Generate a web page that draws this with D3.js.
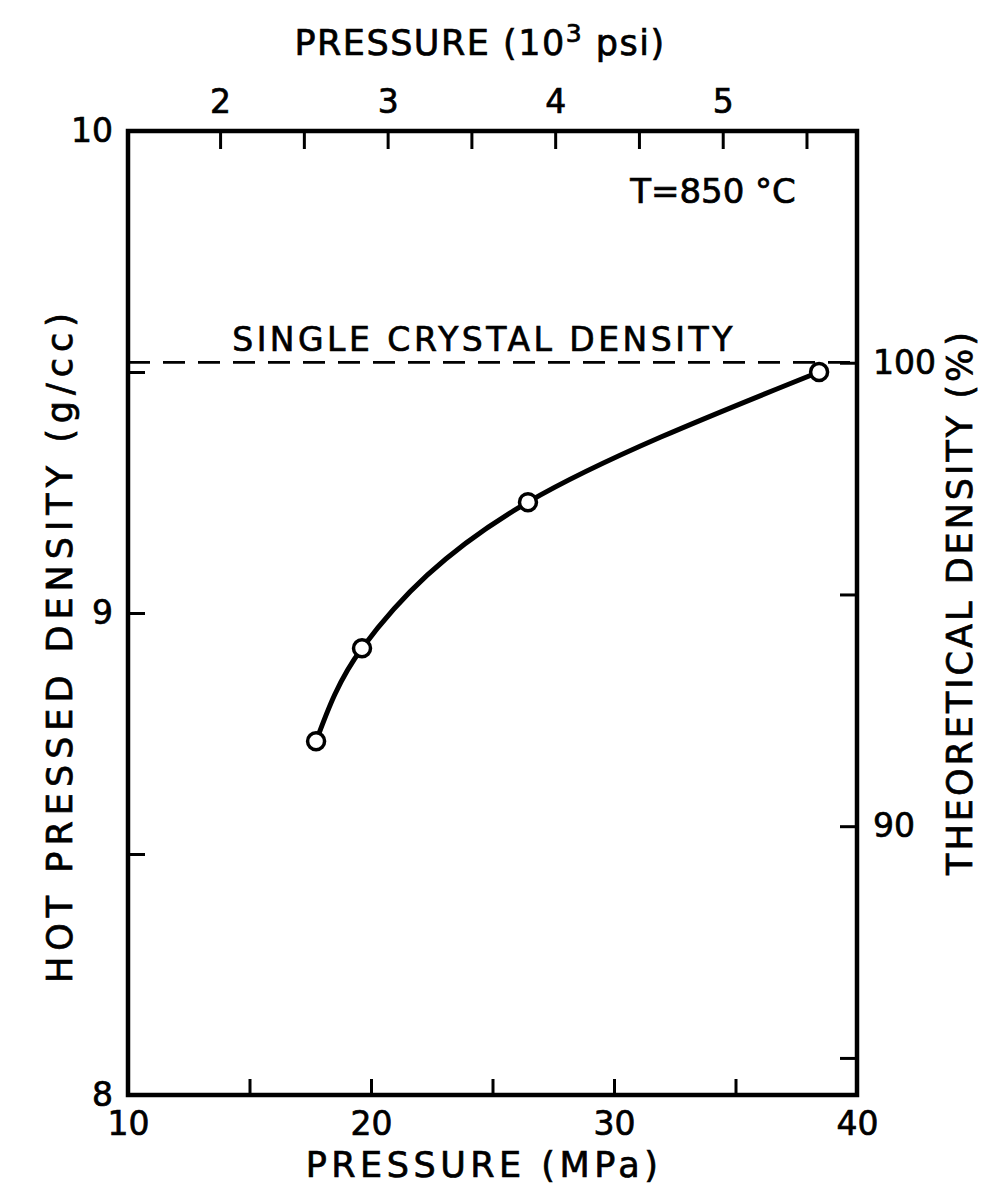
<!DOCTYPE html>
<html>
<head>
<meta charset="utf-8">
<script src="https://cdn.jsdelivr.net/npm/d3@7"></script>
<style>
  html, body { margin: 0; padding: 0; background: #fff; }
  svg text { font-family: "DejaVu Sans", "Noto Sans", sans-serif; fill: #000;
             stroke: #000; stroke-width: 0.7px; }
</style>
</head>
<body>
<svg id="chart" width="984" height="1200"></svg>
<script>
// Hot-pressed density vs. applied pressure at T = 850 °C
const pressureMPa = [17.74, 19.63, 26.46, 38.44];
const densityGcc  = [8.734, 8.927, 9.230, 9.500];
const singleCrystalDensity = 9.52;   // g/cc, = 100 % theoretical

const bottomTicks = [10, 15, 20, 25, 30, 35, 40];
const bottomLabels = [10, 20, 30, 40];
const topTicksKpsi = [2, 2.5, 3, 3.5, 4, 4.5, 5, 5.5];
const topLabels = [2, 3, 4, 5];
const leftTicks = [8, 8.5, 9, 9.5, 10];
const leftLabels = [8, 9, 10];
const rightTicks = [85, 90, 95, 100];
const rightLabels = [90, 100];

const MPA_PER_KPSI = 6.894757;

const svg = d3.select("#chart");
const L = 128, R = 857, T = 131, B = 1095;

const x = d3.scaleLinear().domain([10, 40]).range([L, R]);
const y = d3.scaleLinear().domain([8, 10]).range([B, T]);
const yPct = d3.scaleLinear().domain([84.2, 105]).range([B, T]);
const xKpsi = d3.scaleLinear()
  .domain([10 / MPA_PER_KPSI, 40 / MPA_PER_KPSI]).range([L, R]);

const tickStroke = 3;
const fontSize = 33;

function styleAxis(g) {
  g.select(".domain").remove();
  g.selectAll(".tick line").attr("stroke", "#000").attr("stroke-width", tickStroke);
  g.selectAll(".tick text").style("font-size", fontSize + "px").attr("fill", "#000");
}

// bottom axis (MPa)
svg.append("g").attr("transform", `translate(0,${B})`)
  .call(d3.axisBottom(x).tickValues(bottomTicks).tickSizeInner(-16).tickSizeOuter(0)
    .tickPadding(17).tickFormat(d => bottomLabels.includes(d) ? d : ""))
  .call(styleAxis);

// top axis (10^3 psi)
svg.append("g").attr("transform", `translate(0,${T})`)
  .call(d3.axisTop(xKpsi).tickValues(topTicksKpsi).tickSizeInner(-18).tickSizeOuter(0)
    .tickPadding(18).tickFormat(d => topLabels.includes(d) ? d : ""))
  .call(styleAxis);

// left axis (g/cc)
svg.append("g").attr("transform", `translate(${L},0)`)
  .call(d3.axisLeft(y).tickValues(leftTicks).tickSizeInner(-17).tickSizeOuter(0)
    .tickPadding(15).tickFormat(d => leftLabels.includes(d) ? d : ""))
  .call(styleAxis);

// right axis (% theoretical density)
svg.append("g").attr("transform", `translate(${R},0)`)
  .call(d3.axisRight(yPct).tickValues(rightTicks).tickSizeInner(-17).tickSizeOuter(0)
    .tickPadding(16).tickFormat(d => rightLabels.includes(d) ? d : ""))
  .call(styleAxis);

// frame
svg.append("rect")
  .attr("x", L).attr("y", T).attr("width", R - L).attr("height", B - T)
  .attr("fill", "none").attr("stroke", "#000").attr("stroke-width", 4.5);

// single crystal density reference line
svg.append("line")
  .attr("x1", L).attr("x2", R)
  .attr("y1", y(singleCrystalDensity)).attr("y2", y(singleCrystalDensity))
  .attr("stroke", "#000").attr("stroke-width", 2.6).attr("stroke-dasharray", "22,13");

svg.append("text")
  .attr("x", 484).attr("y", y(singleCrystalDensity) - 11)
  .attr("text-anchor", "middle")
  .style("font-size", "33px").style("letter-spacing", "3.5px")
  .text("SINGLE CRYSTAL DENSITY");

svg.append("text")
  .attr("x", 713).attr("y", 203)
  .attr("text-anchor", "middle")
  .style("font-size", "34px")
  .text("T=850 °C");

// density curve (interpolated with x as a monotone function of y,
// which keeps the fit smoothly concave)
const pts = pressureMPa.map((p, i) => [p, densityGcc[i]]);
const line = d3.line().x(d => x(d[0])).y(d => y(d[1])).curve(d3.curveMonotoneY);
svg.append("path").datum(pts)
  .attr("d", line).attr("fill", "none")
  .attr("stroke", "#000").attr("stroke-width", 5);

svg.selectAll("circle.pt").data(pts).join("circle")
  .attr("class", "pt")
  .attr("cx", d => x(d[0])).attr("cy", d => y(d[1])).attr("r", 8.5)
  .attr("fill", "#fff").attr("stroke", "#000").attr("stroke-width", 3.5);

// axis titles
svg.append("text")
  .attr("x", 484).attr("y", 1177)
  .attr("text-anchor", "middle").style("font-size", "35px").style("letter-spacing", "4.5px")
  .text("PRESSURE (MPa)");

const topTitle = svg.append("text")
  .attr("x", 480).attr("y", 55)
  .attr("text-anchor", "middle").style("font-size", "35px").style("letter-spacing", "1.5px");
topTitle.append("tspan").text("PRESSURE (10");
topTitle.append("tspan").attr("dy", -13).style("font-size", "25px").text("3");
topTitle.append("tspan").attr("dy", 13).text(" psi)");

svg.append("text")
  .attr("transform", `translate(72,${645}) rotate(-90)`)
  .attr("text-anchor", "middle").style("font-size", "35px").style("letter-spacing", "6px")
  .text("HOT PRESSED DENSITY (g/cc)");

svg.append("text")
  .attr("transform", `translate(972,${602}) rotate(-90)`)
  .attr("text-anchor", "middle").style("font-size", "35px").style("letter-spacing", "3px")
  .text("THEORETICAL DENSITY (%)");
</script>
</body>
</html>
